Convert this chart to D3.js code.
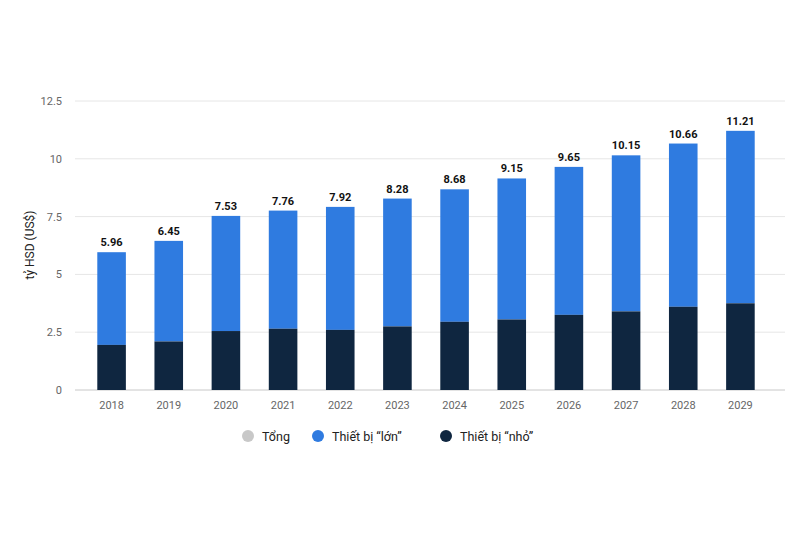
<!DOCTYPE html>
<html><head><meta charset="utf-8">
<script src="https://cdn.jsdelivr.net/npm/d3@7"></script>
<style>body{margin:0;background:#fff;font-family:Roboto,"Noto Sans",sans-serif;}</style>
</head><body><div id="chart"></div>
<script>
const years = ["2018","2019","2020","2021","2022","2023","2024","2025","2026","2027","2028","2029"];
const totals = [5.96,6.45,7.53,7.76,7.92,8.28,8.68,9.15,9.65,10.15,10.66,11.21];
const small = [1.95,2.1,2.55,2.65,2.6,2.75,2.95,3.05,3.25,3.4,3.6,3.75];
const yTicks = [0,2.5,5,7.5,10,12.5];
const legendLabels = ["Tổng","Thiết bị “lớn”","Thiết bị “nhỏ”"];
const legendColors = ["#c8c8c8","#2f7be0","#0f2640"];

const width = 800, height = 533;
const svg = d3.select("#chart").append("svg").attr("width", width).attr("height", height);

const x = d3.scaleBand().domain(years).range([83, 769]).paddingInner(0.5).paddingOuter(0.25);
const y = d3.scaleLinear().domain([0, 12.5]).range([390, 101]);

// gridlines
svg.append("g").selectAll("line").data(yTicks).join("line")
    .attr("x1", 75).attr("x2", 785)
    .attr("y1", d => y(d)).attr("y2", d => y(d))
    .attr("stroke", d => d === 0 ? "#c8c8c8" : "#e6e6e6");

svg.append("g").selectAll("text").data(yTicks).join("text")
    .attr("x", 62).attr("y", d => y(d) + 4)
    .attr("text-anchor", "end").attr("font-size", 11).attr("fill", "#666")
    .text(d => d);

// y title
svg.append("text").attr("transform", "translate(34,245) rotate(-90)")
    .attr("text-anchor", "middle").attr("font-size", 12).attr("fill", "#222")
    .text("tỷ HSD (US$)");

// large part (top)
svg.append("g").selectAll("rect").data(years).join("rect")
    .attr("x", d => x(d)).attr("width", x.bandwidth())
    .attr("y", (d, i) => y(totals[i])).attr("height", (d, i) => y(small[i]) - y(totals[i]))
    .attr("fill", legendColors[1]);

// small part (bottom)
svg.append("g").selectAll("rect").data(years).join("rect")
    .attr("x", d => x(d)).attr("width", x.bandwidth())
    .attr("y", (d, i) => y(small[i])).attr("height", (d, i) => y(0) - y(small[i]))
    .attr("fill", legendColors[2]);

// total labels
svg.append("g").selectAll("text").data(years).join("text")
    .attr("x", d => x(d) + x.bandwidth() / 2).attr("y", (d, i) => y(totals[i]) - 6)
    .attr("text-anchor", "middle").attr("font-size", 11).attr("font-weight", "bold").attr("fill", "#111")
    .text((d, i) => totals[i].toFixed(2).replace(/0$/, "").replace(/\.$/, ""));

// x labels
svg.append("g").selectAll("text").data(years).join("text")
    .attr("x", d => x(d) + x.bandwidth() / 2).attr("y", 409)
    .attr("text-anchor", "middle").attr("font-size", 11).attr("fill", "#666")
    .text(d => d);

// legend
const lx = [248, 318, 446];
const lg = svg.append("g").selectAll("g").data(legendLabels).join("g")
    .attr("transform", (d, i) => `translate(${lx[i]},436)`);
lg.append("circle").attr("r", 6).attr("fill", (d, i) => legendColors[i]);
lg.append("text").attr("x", 14).attr("y", 4.5).attr("font-size", 12.5).attr("fill", "#222").text(d => d);
</script></body></html>
